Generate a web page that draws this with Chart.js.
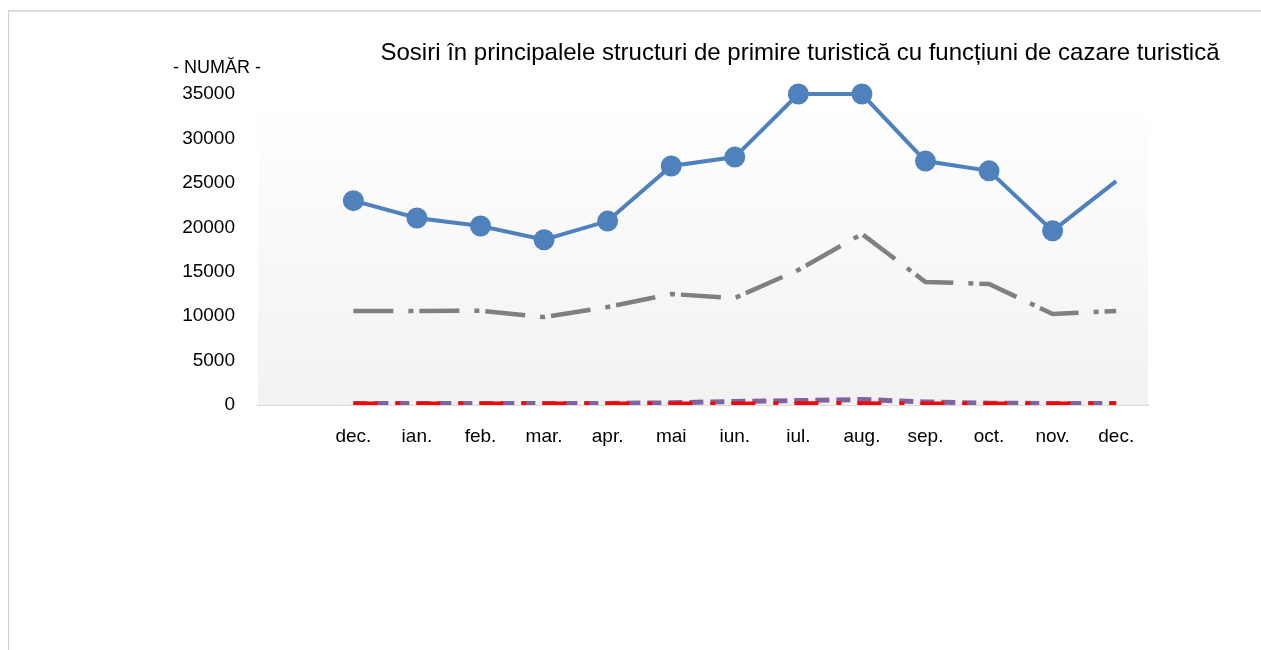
<!DOCTYPE html>
<html>
<head>
<meta charset="utf-8">
<script src="https://cdn.jsdelivr.net/npm/chart.js@4"></script>
<style>
  html, body { margin: 0; padding: 0; background: #fff; overflow: hidden; }
  #frame { position: absolute; left: 8px; top: 10px; width: 1400px; height: 800px;
           border-top: 2px solid #dcdcdc; border-left: 1px solid #cfcfcf; }
  #wrap { position: absolute; left: 0; top: 0; width: 1261px; height: 650px; }
</style>
</head>
<body>
<div id="frame"></div>
<div id="wrap"><canvas id="myChart"></canvas></div>
<script>
// first slot is an empty category, as in the original sheet
let labels = ['', 'dec.', 'ian.', 'feb.', 'mar.', 'apr.', 'mai', 'iun.', 'iul.', 'aug.', 'sep.', 'oct.', 'nov.', 'dec.']
let seriesBlue = [null, 23000, 21050, 20150, 18600, 20700, 26900, 27900, 35000, 35000, 27450, 26350, 19600, 25200]
let seriesGrey = [null, 10580, 10580, 10600, 9900, 11030, 12490, 12040, 15200, 19250, 13850, 13620, 10250, 10580]
let seriesRed = [null, 110, 110, 110, 110, 110, 110, 120, 130, 130, 110, 110, 110, 110]
let seriesPurple = [null, 170, 170, 170, 170, 180, 250, 400, 500, 620, 350, 200, 170, 170]
let yTicks = [0, 5000, 10000, 15000, 20000, 25000, 30000, 35000]

let titleText = 'Sosiri în principalele structuri de primire turistică cu funcțiuni de cazare turistică'
let yTitleText = '- NUMĂR -'
let fontFamily = '"Liberation Sans", Arial, sans-serif'

let ctx = document.getElementById("myChart").getContext("2d");

let plotBackground = {
    id: 'plotBackground',
    beforeDatasetsDraw(chart) {
        let a = chart.chartArea
        let c = chart.ctx
        let g = c.createLinearGradient(0, a.top, 0, a.bottom)
        g.addColorStop(0, '#ffffff')
        g.addColorStop(1, '#f2f2f2')
        c.save()
        c.fillStyle = g
        c.fillRect(a.left, a.top, a.right - a.left, a.bottom - a.top)
        c.restore()
    }
}

let texts = {
    id: 'texts',
    afterDraw(chart) {
        let c = chart.ctx
        c.save()
        c.fillStyle = '#000'
        c.textBaseline = 'middle'
        c.textAlign = 'center'
        c.font = '24px ' + fontFamily
        c.fillText(titleText, 800, 53)
        c.font = '18px ' + fontFamily
        c.fillText(yTitleText, 217, 68)
        c.restore()
    }
}

let pointSizes = seriesBlue.map((v, i) => i === seriesBlue.length - 1 ? 0 : 10.5)

let data = {
    labels,
    datasets: [{
        data: seriesBlue,
        borderColor: '#4f81bd',
        backgroundColor: '#4f81bd',
        borderWidth: 4,
        pointRadius: pointSizes,
        pointBorderWidth: 0,
        tension: 0,
        clip: false,
        order: 1,
    }, {
        data: seriesGrey,
        borderColor: '#808080',
        borderWidth: 4.5,
        borderDash: [40, 15, 5, 6],
        pointRadius: 0,
        tension: 0,
        order: 2,
    }, {
        data: seriesRed,
        borderColor: '#ff0000',
        borderWidth: 5,
        borderDash: [24, 18, 5, 16],
        pointRadius: 0,
        tension: 0,
        order: 3,
    }, {
        data: seriesPurple,
        borderColor: '#8064a2',
        borderWidth: 5,
        borderDash: [14, 7],
        pointRadius: 0,
        tension: 0,
        order: 4,
    },
    ],
};

let config = {
    type: 'line',
    data: data,
    plugins: [plotBackground, texts],
    options: {
        responsive: false,
        animation: false,
        layout: { padding: { left: 0, right: 113, top: 94, bottom: 0 } },
        plugins: {
            legend: { display: false },
            tooltip: { enabled: false },
        },
        scales: {
            x: {
                offset: true,
                grid: { display: false, drawTicks: false },
                border: { display: true, color: '#d9d9d9', width: 2 },
                ticks: {
                    color: '#000',
                    padding: 20,
                    maxRotation: 0,
                    autoSkip: false,
                    font: { family: fontFamily, size: 19 },
                },
                afterFit: (scale) => { scale.height = 245 },
            },
            y: {
                min: 0,
                max: 35000,
                grid: { display: false, drawTicks: false },
                border: { display: false },
                afterBuildTicks: (scale) => { scale.ticks = yTicks.map(v => ({ value: v })) },
                ticks: {
                    color: '#000',
                    padding: 23,
                    font: { family: fontFamily, size: 19 },
                    callback: function (value) {
                        return String(value);
                    },
                },
                afterFit: (scale) => { scale.width = 258 },
            },
        },
    },
};

let canvas = document.getElementById("myChart")
canvas.width = 1261
canvas.height = 650
let myChart = new Chart(ctx, config)
</script>
</body>
</html>
